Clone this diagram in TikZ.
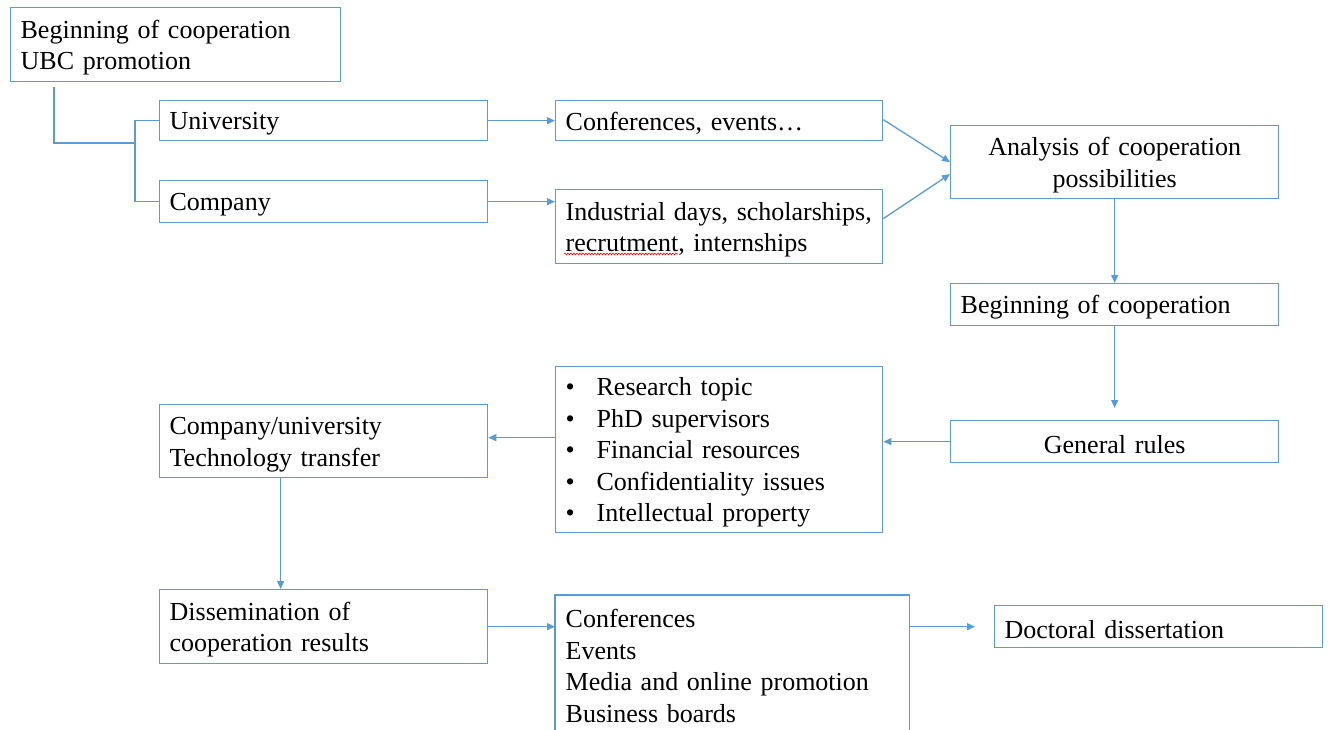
\documentclass[tikz,border=0pt]{standalone}
\usepackage{fontspec}
\setmainfont{Liberation Serif}[WordSpace=0.85]
\usetikzlibrary{arrows.meta,calc,decorations.pathmorphing}
\definecolor{bl}{HTML}{5B9BD5}
\newcommand{\bfs}{\fontsize{26pt}{31.5pt}\selectfont}
\newcommand{\bul}{\makebox[31pt][l]{\textbullet}}
\begin{document}
\begin{tikzpicture}[x=1pt,y=-1pt,
  box/.style={draw=bl, line width=1.3pt, anchor=north west, inner xsep=10pt, inner ysep=0pt, font=\bfs, align=left,
    execute at begin node={\rule{0pt}{24pt}}},
  conn/.style={draw=bl, line width=1.3pt},
  arr/.style={conn, -{Triangle[length=8pt,width=7pt]}}]
\useasboundingbox (0,0) rectangle (1329,730);

\node[box, minimum width=330pt, text width=310pt, minimum height=74pt] (b0) at (10,7) {Beginning of cooperation\\UBC promotion};
\node[box, minimum width=328pt, text width=308pt, minimum height=40pt] (univ) at (159,100) {University};
\node[box, minimum width=328pt, text width=308pt, minimum height=42pt] (comp) at (159,180) {Company};
\node[box, minimum width=327pt, text width=307pt, minimum height=40pt] (conf) at (555,100) {Conferences, events…};
\node[box, minimum width=327pt, text width=307pt, minimum height=74pt] (ind) at (555,189) {\mbox{Industrial days, scholarships,}\\recrutment, internships};
\node[box, minimum width=328pt, text width=308pt, minimum height=73pt, align=center] (anal) at (950,125) {Analysis of cooperation\\possibilities};
\node[box, minimum width=328pt, text width=308pt, minimum height=42pt] (beg) at (950,283) {Beginning of cooperation};
\node[box, minimum width=328pt, text width=308pt, minimum height=42pt, align=center] (gen) at (950,420) {General rules};
\node[box, minimum width=327pt, text width=307pt, minimum height=166pt] (bulx) at (555,366) {\bul Research topic\\\bul PhD supervisors\\\bul Financial resources\\\bul Confidentiality issues\\\bul Intellectual property};
\node[box, minimum width=328pt, text width=308pt, minimum height=73pt] (cu) at (159,404) {Company/university\\Technology transfer};
\node[box, minimum width=328pt, text width=308pt, minimum height=74pt] (dis) at (159,589) {Dissemination of\\cooperation results};
\node[box, draw=none, minimum width=353pt, text width=333pt, minimum height=135pt] (list) at (555,595) {Conferences\\Events\\Media and online promotion\\Business boards};
\draw[conn] (list.south west) |- (list.north east) -- (list.south east);
\node[box, minimum width=328pt, text width=308pt, minimum height=42pt] (doc) at (994,605) {Doctoral dissertation};

% spell-check underline
\draw[red, line width=0.6pt, decorate, decoration={snake, amplitude=0.9pt, segment length=3pt}] (564,254) -- (678,254);

\coordinate (j) at (135,143);
\draw[conn] ($(b0.south west)+(44,5)$) |- (j);
\draw[conn] (univ.west) -| (j) |- (comp.west);

\draw[arr] (univ.east) -- (conf.west);
\draw[arr] (comp.east) -- (comp.east -| ind.west);
\draw[arr] ([yshift=1pt]conf.east) -- (anal.west);
\draw[arr] ([yshift=8pt]ind.east) -- ([yshift=-12pt]anal.west);
\draw[arr] (anal.south) -- (beg.north);
\draw[arr, shorten >=12pt] (beg.south) -- (gen.north);
\draw[arr] (gen.west) -- (gen.west -| bulx.east);
\draw[arr] ([yshift=12pt]bulx.west) -- ([yshift=12pt]bulx.west -| cu.east);
\draw[arr] ([xshift=-43pt]cu.south) -- ([xshift=-43pt]cu.south |- dis.north);
\draw[arr] (dis.east) -- (dis.east -| list.west);
\draw[arr, shorten >=19pt] (doc.west -| list.east) -- (doc.west);
\end{tikzpicture}
\end{document}
